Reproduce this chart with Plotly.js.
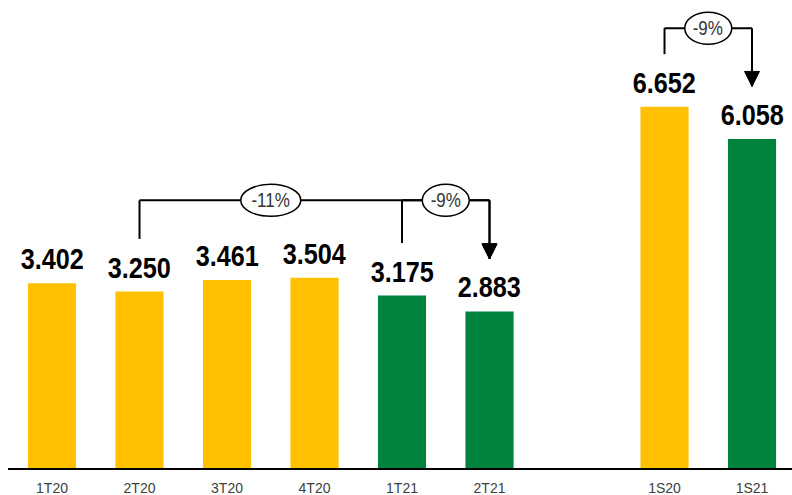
<!DOCTYPE html>
<html>
<head>
<meta charset="utf-8">
<script src="https://cdn.plot.ly/plotly-3.0.1.min.js"></script>
<style>
html,body{margin:0;padding:0;background:#fff;}
#chart{width:792px;height:495px;}
.narrow-text{transform-box:fill-box;transform-origin:center;}
</style>
</head>
<body>
<div id="chart"></div>
<script>
// ---- data ----
var categories = ['1T20', '2T20', '3T20', '4T20', '1T21', '2T21', ' ', '1S20', '1S21'];
var values     = [3.402, 3.250, 3.461, 3.504, 3.175, 2.883, null, 6.652, 6.058];
var valueText  = ['3.402', '3.250', '3.461', '3.504', '3.175', '2.883', '', '6.652', '6.058'];
var periodYear = ['2020', '2020', '2020', '2020', '2021', '2021', '', '2020', '2021'];

// comparison brackets
var bracketFrom   = ['2T20', '1T21', '1S20'];
var bracketTo     = ['2T21', '2T21', '1S21'];
var bracketLabel  = ['-11%', '-9%', '-9%'];
var bracketLevel  = [4.93, 4.93, 8.10];
var bracketLabelBetween = [['2T20', '1T21'], ['1T21', '2T21'], ['1S20', '1S21']];

// ---- styles ----
var YELLOW = '#FFC000', GREEN = '#00843D';
var colorByYear = {'2020': YELLOW, '2021': GREEN, '': 'rgba(0,0,0,0)'};
var FONT = '"Liberation Sans Narrow", "Arial Narrow", "Liberation Sans", Arial, sans-serif';
var GAP = 0.97; // data units between bar top and bracket end

var idx = function (c) { return categories.indexOf(c); };
var valOf = function (c) { return values[idx(c)]; };

var trace = {
  type: 'bar',
  x: categories,
  y: values,
  marker: {color: periodYear.map(function (p) { return colorByYear[p]; })},
  hoverinfo: 'skip'
};

var annotations = [];
categories.forEach(function (c, i) {
  if (values[i] == null) return;
  annotations.push({
    x: c, y: values[i], xref: 'x', yref: 'y',
    text: valueText[i], showarrow: false,
    yanchor: 'bottom', yshift: 6,
    font: {family: FONT, size: 29, color: '#000', weight: 'bold'}
  });
});

var shapes = [];
var LINE = {color: '#000', width: 2};
bracketFrom.forEach(function (f, k) {
  var t = bracketTo[k], lvl = bracketLevel[k];
  var yf = valOf(f) + GAP, yt = valOf(t) + GAP;
  shapes.push({type: 'line', xref: 'x', yref: 'y', x0: idx(f), x1: idx(f), y0: yf, y1: lvl, line: LINE});
  shapes.push({type: 'line', xref: 'x', yref: 'y', x0: idx(f), x1: idx(t), y0: lvl, y1: lvl, line: LINE});
  shapes.push({type: 'line', xref: 'x', yref: 'y', x0: idx(t), x1: idx(t), y0: lvl, y1: yt, line: LINE});
  shapes.push({type: 'path', xref: 'x', yref: 'y', xsizemode: 'pixel', ysizemode: 'pixel',
    xanchor: idx(t), yanchor: yt, path: 'M -7.5,15 L 7.5,15 L 0,0 Z',
    fillcolor: '#000', line: {color: '#000', width: 1}});
});
bracketFrom.forEach(function (f, k) {
  var pair = bracketLabelBetween[k];
  var xm = (idx(pair[0]) + idx(pair[1])) / 2, lvl = bracketLevel[k];
  var lab = bracketLabel[k];
  var hw = (8 + 13 * lab.length) / 2, hh = 16;
  shapes.push({type: 'circle', xref: 'x', yref: 'y', xsizemode: 'pixel', ysizemode: 'pixel',
    xanchor: xm, yanchor: lvl, x0: -hw, x1: hw, y0: -hh, y1: hh,
    fillcolor: '#fff', line: {color: '#000', width: 1.5}});
  annotations.push({x: xm, y: lvl, xref: 'x', yref: 'y', text: lab, showarrow: false,
    font: {family: FONT, size: 20, color: '#333'}});
});

var layout = {
  width: 792, height: 495,
  margin: {l: 8, r: 0, t: 0, b: 27},
  paper_bgcolor: '#fff', plot_bgcolor: '#fff',
  showlegend: false,
  bargap: 0.45,
  xaxis: {
    type: 'category', categoryorder: 'array', categoryarray: categories,
    range: [-0.503, 8.457], showline: true, linecolor: '#000', linewidth: 2,
    showgrid: false, zeroline: false, ticks: '', fixedrange: true,
    ticklabelstandoff: 6,
    tickfont: {family: FONT, size: 14, color: '#404040'}
  },
  yaxis: {range: [0, 8.62], visible: false, showgrid: false, zeroline: false, fixedrange: true},
  shapes: shapes,
  annotations: annotations
};

Plotly.newPlot('chart', [trace], layout, {displayModeBar: false, staticPlot: true}).then(function (gd) {
  // emulate the narrow (condensed) typeface of the original
  gd.querySelectorAll('.annotation-text').forEach(function (el) {
    var t = el.textContent;
    el.classList.add('narrow-text');
    el.style.transform = (t.indexOf('%') >= 0) ? 'scaleX(0.85)' : 'scaleX(0.87)';
  });
});
</script>
</body>
</html>
